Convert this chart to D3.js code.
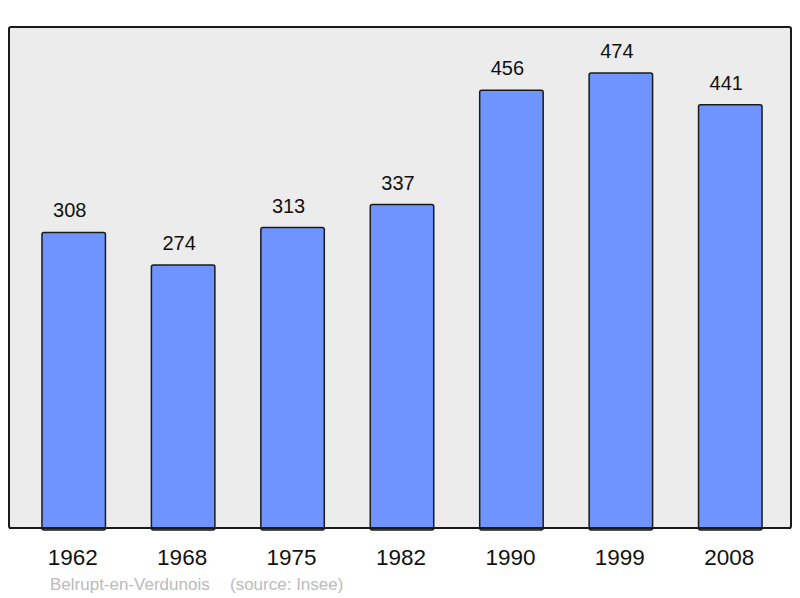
<!DOCTYPE html>
<html>
<head>
<meta charset="utf-8">
<script src="https://cdn.jsdelivr.net/npm/d3@7"></script>
<style>
  body { margin: 0; background: #fff; }
  svg { display: block; font-family: "Liberation Sans", Arial, sans-serif; }
</style>
</head>
<body>
<div id="chart"></div>
<script>
const WIDTH = 800;
const HEIGHT = 598;

const years = ["1962", "1968", "1975", "1982", "1990", "1999", "2008"];
const population = [308, 274, 313, 337, 456, 474, 441];
const commune = "Belrupt-en-Verdunois";
const source = "(source: Insee)";

const frame = { left: 9, top: 27, right: 791, bottom: 528 };

const svg = d3.select("#chart")
  .append("svg")
  .attr("width", WIDTH)
  .attr("height", HEIGHT);

// plot background
svg.append("rect")
  .attr("x", frame.left)
  .attr("y", frame.top)
  .attr("width", frame.right - frame.left)
  .attr("height", frame.bottom - frame.top)
  .attr("rx", 2)
  .attr("fill", "#ececec")
  .attr("stroke", "#1a1a1a")
  .attr("stroke-width", 2);

const x = d3.scaleBand()
  .domain(years)
  .range([19, 785])
  .paddingInner(0.42)
  .paddingOuter(0.21);

const y = d3.scaleLinear()
  .domain([0, 522])
  .range([frame.bottom, frame.top]);

const data = years.map((yr, i) => ({ year: yr, value: population[i] }));

svg.selectAll(".bar")
  .data(data)
  .enter()
  .append("rect")
  .attr("class", "bar")
  .attr("x", d => x(d.year))
  .attr("y", d => y(d.value))
  .attr("width", x.bandwidth())
  .attr("height", d => y(0) - y(d.value) + 2)
  .attr("rx", 2)
  .attr("fill", "#7094ff")
  .attr("stroke", "#1a1a1a")
  .attr("stroke-width", 1.5);

// redraw bottom frame line over bars
svg.append("line")
  .attr("x1", frame.left)
  .attr("x2", frame.right)
  .attr("y1", frame.bottom)
  .attr("y2", frame.bottom)
  .attr("stroke", "#1a1a1a")
  .attr("stroke-width", 2);

// value labels
svg.selectAll(".val")
  .data(data)
  .enter()
  .append("text")
  .attr("class", "val")
  .attr("x", d => x(d.year) + x.bandwidth() / 2 - 4)
  .attr("y", d => y(d.value) - 15)
  .attr("text-anchor", "middle")
  .style("font-size", "20px")
  .style("fill", "#111")
  .text(d => d.value);

// year labels
svg.selectAll(".yr")
  .data(data)
  .enter()
  .append("text")
  .attr("class", "yr")
  .attr("x", d => x(d.year) + x.bandwidth() / 2 - 1)
  .attr("y", 565)
  .attr("text-anchor", "middle")
  .style("font-size", "22.5px")
  .style("fill", "#111")
  .text(d => d.year);

// footer
svg.append("text")
  .attr("x", 50)
  .attr("y", 590)
  .style("font-size", "17px")
  .style("fill", "#bbbbbb")
  .text(commune);

svg.append("text")
  .attr("x", 230)
  .attr("y", 590)
  .style("font-size", "17px")
  .style("fill", "#bbbbbb")
  .text(source);
</script>
</body>
</html>
